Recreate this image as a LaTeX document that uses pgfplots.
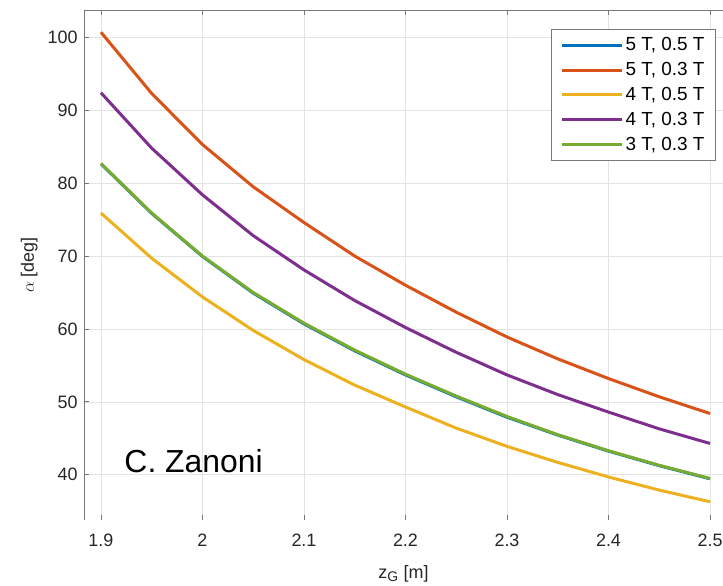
\documentclass[border=0pt]{standalone}
\usepackage{fontspec}
\setmainfont{Liberation Sans}
\usepackage{pgfplots}
\pgfplotsset{compat=1.18}
\definecolor{mblue}{rgb}{0,0.447,0.741}
\definecolor{morange}{rgb}{0.850,0.325,0.098}
\definecolor{myellow}{rgb}{0.929,0.694,0.125}
\definecolor{mpurple}{rgb}{0.494,0.184,0.556}
\definecolor{mgreen}{rgb}{0.466,0.674,0.188}
\definecolor{axgray}{RGB}{120,120,120}
\definecolor{txtgray}{RGB}{38,38,38}
\begin{document}
\begin{tikzpicture}
\begin{axis}[scale only axis, width=639bp, height=510bp,
  xmin=1.8833, xmax=2.5128, ymin=33.8, ymax=103.75,
  xtick={1.9,2,...,2.5}, ytick={40,50,...,100},
  xticklabels={1.9,2,2.1,2.2,2.3,2.4,2.5},
  xtick pos=both, ytick pos=left, tick align=inside,
  major tick length=5bp, tick style={axgray, line width=0.8bp},
  axis line style={draw=none},
  grid=major, grid style={gray!22, line width=0.7bp},
  /pgf/number format/assume math mode=true,
  ticklabel style={font=\fontsize{18}{20}\selectfont, text=txtgray},
  xticklabel style={yshift=-10bp},
  yticklabel style={xshift=-3bp},
  xlabel={z$_{\mbox{\fontsize{14}{14}\selectfont G}}$ [m]}, ylabel={$\alpha$ [deg]},
  label style={font=\fontsize{18}{20}\selectfont, text=txtgray},
  xlabel style={yshift=-12bp}, ylabel style={yshift=3bp},
  legend cell align=left,
  legend image code/.code={\draw[#1, line width=3bp] (0bp,0bp) -- (60bp,0bp);},
  legend style={at={(rel axis cs:0.731,0.963)}, anchor=north west,
    draw=axgray, line width=0.8bp, font=\fontsize{19}{20}\selectfont,
    inner xsep=9bp, inner ysep=6.5bp, row sep=6.2bp,
    /tikz/every even column/.append style={column sep=2bp}},
  every axis plot/.append style={line width=3bp}]
\addplot[mblue] coordinates {(1.90,82.65)(1.95,75.85)(2.00,69.95)(2.05,64.92)(2.10,60.7)(2.15,57.0)(2.20,53.7)(2.25,50.7)(2.30,47.9)(2.35,45.45)(2.40,43.25)(2.45,41.25)(2.50,39.45)};
\addlegendentry{5 T, 0.5 T}
\addplot[morange] coordinates {(1.90,100.7)(1.95,92.3)(2.00,85.3)(2.05,79.5)(2.10,74.6)(2.15,70.0)(2.20,66.0)(2.25,62.3)(2.30,58.9)(2.35,55.9)(2.40,53.2)(2.45,50.7)(2.50,48.4)};
\addlegendentry{5 T, 0.3 T}
\addplot[myellow] coordinates {(1.90,75.9)(1.95,69.7)(2.00,64.4)(2.05,59.8)(2.10,55.8)(2.15,52.3)(2.20,49.3)(2.25,46.4)(2.30,43.9)(2.35,41.7)(2.40,39.7)(2.45,37.9)(2.50,36.3)};
\addlegendentry{4 T, 0.5 T}
\addplot[mpurple] coordinates {(1.90,92.4)(1.95,84.8)(2.00,78.4)(2.05,72.8)(2.10,68.1)(2.15,63.9)(2.20,60.2)(2.25,56.8)(2.30,53.7)(2.35,51.0)(2.40,48.6)(2.45,46.3)(2.50,44.3)};
\addlegendentry{4 T, 0.3 T}
\addplot[mgreen] coordinates {(1.90,82.7)(1.95,75.9)(2.00,70.0)(2.05,65.0)(2.10,60.8)(2.15,57.1)(2.20,53.8)(2.25,50.8)(2.30,48.0)(2.35,45.5)(2.40,43.3)(2.45,41.3)(2.50,39.5)};
\addlegendentry{3 T, 0.3 T}
\draw[axgray, line width=0.8bp] (rel axis cs:1,1) -- (rel axis cs:0,1) -- (rel axis cs:0,0) -- (rel axis cs:1,0);
\node[anchor=base west, font=\fontsize{32}{36}\selectfont, inner sep=0pt] at (axis cs:1.923,40.28) {C. Zanoni};
\end{axis}
\pgfresetboundingbox
\useasboundingbox (-84bp,-66bp) rectangle (639bp,520bp);
\end{tikzpicture}
\end{document}
